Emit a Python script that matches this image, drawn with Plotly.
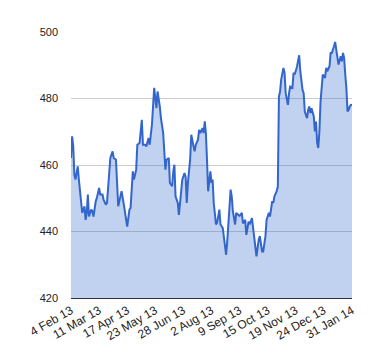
import plotly.graph_objects as go

# trading-day index (0 = 4 Feb 13, 250 = 31 Jan 14) and closing values
day = [0, 1, 2, 3, 4, 6, 7, 9, 10, 12, 13, 14, 15, 16, 18, 19, 20, 22, 23, 25,
       26, 28, 29, 31, 32, 34, 35, 37, 38, 40, 41, 42, 44, 45, 47, 48, 50, 52, 53, 55,
       56, 58, 59, 61, 62, 63, 64, 66, 67, 69, 70, 72, 73, 74, 76, 77, 79, 80, 82, 83,
       84, 85, 87, 88, 90, 91, 92, 93, 95, 96, 98, 99, 101, 102, 103, 104, 106, 107, 109, 110,
       111, 113, 114, 115, 117, 118, 119, 120, 121, 122, 124, 125, 126, 127, 129, 130, 132, 133, 135, 136,
       138, 139, 141, 142, 143, 144, 146, 147, 149, 150, 152, 153, 155, 156, 158, 159, 161, 162, 164, 165,
       167, 168, 170, 171, 173, 174, 176, 177, 179, 180, 181, 183, 184, 185, 186, 187, 189, 190, 191, 193,
       194, 195, 197, 198, 199, 200, 201, 203, 204, 206, 207, 208, 210, 211, 212, 213, 214, 216, 217, 218,
       219, 220, 221, 222, 223, 224, 226, 227, 228, 229, 230, 231, 232, 234, 235, 236, 237, 238, 240, 241,
       242, 243, 244, 245, 246, 247, 248, 249, 250]

value = [462.1, 468.6, 465.6, 457.1, 455.6, 459.6, 455.6, 449.6, 445.6, 447.6, 443.5, 445.6, 451.1, 444.5, 446.6, 446.1, 444.5, 449.1, 450.1, 453.1,
         451.1, 451.1, 449.6, 448.1, 448.6, 457.6, 462.1, 464.1, 462.1, 461.6, 452.6, 447.6, 450.6, 452.1, 448.1, 446.1, 441.5, 446.6, 447.1, 458.1,
         455.6, 458.6, 466.1, 466.6, 470.6, 473.6, 466.1, 466.1, 465.6, 468.1, 466.1, 472.1, 477.6, 483.2, 477.1, 482.1, 477.6, 474.1, 469.6, 462.6,
         458.6, 461.6, 462.1, 454.6, 453.6, 458.1, 460.1, 450.6, 448.6, 445.0, 451.6, 455.6, 457.6, 456.4, 448.6, 454.6, 461.6, 469.1, 465.6, 464.1,
         466.1, 467.6, 470.6, 469.6, 471.1, 469.6, 473.1, 469.6, 461.6, 452.1, 458.1, 454.6, 455.6, 448.6, 442.1, 442.6, 446.6, 442.1, 441.1, 438.6,
         433.0, 437.0, 446.6, 452.6, 450.6, 446.1, 442.1, 445.6, 445.0, 444.7, 445.6, 442.4, 443.5, 439.0, 443.0, 442.1, 444.0, 441.1, 433.5, 432.5,
         437.5, 438.6, 434.0, 434.0, 438.6, 443.5, 445.6, 444.5, 449.1, 448.6, 450.6, 452.1, 453.5, 480.6, 482.1, 485.7, 489.2, 487.7, 481.6, 478.1,
         481.6, 483.6, 483.2, 487.7, 487.2, 488.2, 489.5, 493.0, 488.2, 482.6, 481.6, 476.1, 474.1, 476.6, 477.6, 475.6, 477.1, 474.6, 470.1, 473.1,
         466.6, 465.1, 470.1, 479.1, 485.1, 487.2, 486.2, 489.2, 488.2, 489.2, 489.7, 493.7, 493.7, 495.7, 497.0, 494.7, 491.7, 490.2, 492.7, 491.2,
         493.7, 492.2, 487.2, 483.2, 476.1, 476.6, 477.6, 478.1, 478.0]

tick_days = [0, 25, 50, 75, 100, 125, 150, 175, 200, 225, 250]
tick_labels = ["4 Feb 13", "11 Mar 13", "17 Apr 13", "23 May 13", "28 Jun 13", "2 Aug 13",
               "9 Sep 13", "15 Oct 13", "19 Nov 13", "24 Dec 13", "31 Jan 14"]
y_ticks = [420, 440, 460, 480, 500]

fig = go.Figure()
fig.add_trace(go.Scatter(
    x=day, y=value, mode="lines", fill="tozeroy",
    line=dict(color="#3366CC", width=2),
    fillcolor="rgba(51,102,204,0.3)",
    hoverinfo="x+y", showlegend=False,
))

fig.update_layout(
    width=380, height=360,
    margin=dict(l=63, r=36, t=24, b=70),
    paper_bgcolor="white", plot_bgcolor="white",
    font=dict(family="Liberation Sans, Arial, sans-serif", size=11, color="#222222"),
    xaxis=dict(
        range=[0, 250], tickmode="array", tickvals=tick_days, ticktext=tick_labels,
        tickangle=-30, showgrid=False, zeroline=False, tickfont=dict(size=12),
        showline=True, linecolor="#333333", linewidth=1, ticks="",
    ),
    yaxis=dict(
        range=[420, 500], tickmode="array", tickvals=y_ticks,
        showgrid=True, gridcolor="#CCCCCC", gridwidth=1, zeroline=False,
        showline=False, ticks="", ticklabelstandoff=12,
    ),
)

fig.write_html("out.html")
